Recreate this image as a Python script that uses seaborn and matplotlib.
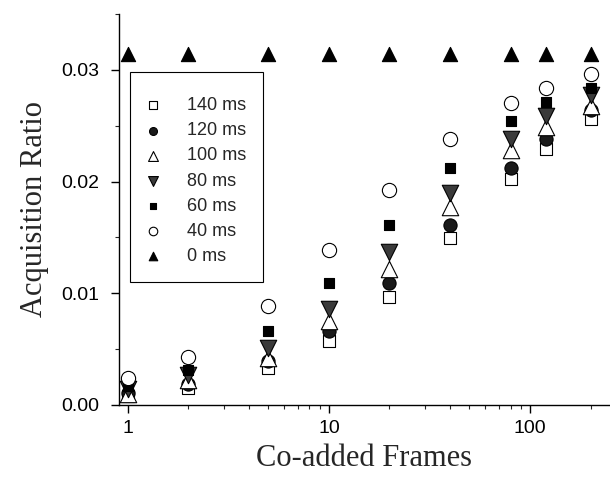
import numpy as np
import pandas as pd
import matplotlib
matplotlib.use('Agg')
import matplotlib.pyplot as plt
from matplotlib.patches import Rectangle
from matplotlib.ticker import MultipleLocator, LogLocator, NullFormatter, FormatStrFormatter
import seaborn as sns

sns.set_style('ticks')
plt.rcParams['font.family'] = ['Liberation Sans', 'DejaVu Sans']

# co-added frames
frames = [1, 2, 5, 10, 20, 40, 80, 120, 200]

# acquisition ratio per exposure delay
r_140 = [0.0008, 0.0015, 0.0033, 0.0057, 0.0097, 0.0149, 0.0202, 0.0229, 0.0256]
r_120 = [0.0011, 0.0019, 0.0039, 0.0066, 0.0109, 0.0161, 0.0212, 0.0238, 0.0264]
r_100 = [0.0010, 0.0022, 0.0042, 0.0075, 0.0122, 0.0177, 0.0228, 0.0249, 0.0268]
r_80 = [0.0014, 0.0027, 0.0051, 0.0086, 0.0137, 0.0190, 0.0238, 0.0259, 0.0277]
r_60 = [0.0017, 0.0031, 0.0066, 0.0109, 0.0161, 0.0212, 0.0254, 0.0271, 0.0284]
r_40 = [0.0024, 0.0043, 0.0089, 0.0139, 0.0192, 0.0238, 0.0270, 0.0284, 0.0296]
r_0 = [0.0314, 0.0314, 0.0314, 0.0314, 0.0314, 0.0314, 0.0314, 0.0314, 0.0314]

labels = ['140 ms', '120 ms', '100 ms', '80 ms', '60 ms', '40 ms', '0 ms']
series = [r_140, r_120, r_100, r_80, r_60, r_40, r_0]

# marker, facecolor, size (pt^2)
styles = [('s', 'white', 75), ('o', '#1a1a1a', 90), ('^', 'white', 140),
          ('v', '#3a3a3a', 140), ('s', 'black', 50), ('o', 'white', 105),
          ('^', 'black', 105)]

fig = plt.figure(figsize=(6.1, 4.79), dpi=100)
ax = fig.add_axes([0.195, 0.1545, 0.805, 0.8165])

for lab, vals, (m, fc, s) in zip(labels, series, styles):
    d = pd.DataFrame({'frames': frames, 'ratio': vals})
    sns.scatterplot(data=d, x='frames', y='ratio', marker=m, s=s, color=fc,
                    edgecolor='black', linewidth=0.8, label=lab, ax=ax)

ax.set_xscale('log')
ax.set_xlim(0.902, 250)
ax.set_ylim(0, 0.035)
ax.xaxis.set_major_locator(LogLocator(base=10, numticks=5))
ax.xaxis.set_minor_locator(LogLocator(base=10, subs=np.arange(2, 10), numticks=20))
ax.xaxis.set_minor_formatter(NullFormatter())
ax.xaxis.set_major_formatter(FormatStrFormatter('%g'))
ax.yaxis.set_major_locator(MultipleLocator(0.01))
ax.yaxis.set_minor_locator(MultipleLocator(0.005))
ax.yaxis.set_major_formatter(FormatStrFormatter('%.2f'))

ax.tick_params(which='major', direction='out', length=6, width=1, labelsize=14,
               colors='black', pad=5)
ax.tick_params(axis='y', which='major', pad=8)
ax.tick_params(which='minor', direction='out', length=3, width=0.8)
sns.despine(ax=ax)
for sp in ['left', 'bottom']:
    ax.spines[sp].set_linewidth(1)
    ax.spines[sp].set_color('black')

ax.set_xlabel('Co-added Frames', family='Liberation Serif', fontsize=22, labelpad=5)
ax.set_ylabel('Acquisition Ratio', family='Liberation Serif', fontsize=22, labelpad=9)

# legend entries without frame; the box is drawn separately so it can be taller
leg = ax.legend(loc='upper left', bbox_to_anchor=(0.022, 0.831), borderaxespad=0,
                frameon=False, fontsize=13,
                markerscale=0.6, handletextpad=1.57, labelspacing=0.45,
                borderpad=0.95, handlelength=0.64)
ax.add_patch(Rectangle((0.0224, 0.315), 0.271, 0.536, transform=ax.transAxes,
                       fill=False, edgecolor='black', linewidth=0.8, zorder=5))

fig.savefig('out.png', dpi=100)
